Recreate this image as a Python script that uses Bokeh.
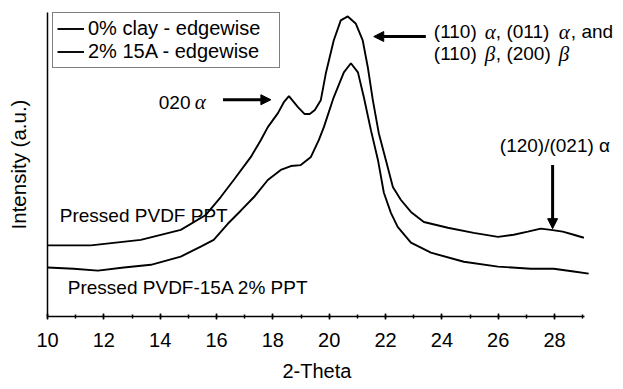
from bokeh.plotting import figure
from bokeh.models import (Range1d, Label, Arrow, NormalHead, Legend, LegendItem,
                          SingleIntervalTicker, FixedTicker, Title)
from bokeh.embed import file_html
from bokeh.resources import INLINE

# 2-Theta (deg) and intensity (a.u.)
theta_0clay = [10.0, 11.54, 13.31, 14.73, 15.62, 16.15, 16.61, 17.22, 17.57, 17.82,
               18.18, 18.39, 18.57, 18.89, 19.13, 19.31, 19.49, 19.70, 19.88, 20.16,
               20.41, 20.66, 20.94, 21.19, 21.37, 21.55, 21.76, 22.01, 22.26, 22.54,
               22.90, 23.36, 24.21, 25.13, 25.99, 26.55, 27.05, 27.51, 27.87, 28.29,
               28.68, 29.04]
int_0clay = [23.4, 23.4, 25.2, 28.5, 33.4, 39.3, 44.9, 52.5, 58.0, 62.3,
             66.9, 70.5, 72.5, 68.9, 66.6, 66.6, 67.9, 71.1, 80.0, 90.8,
             97.4, 98.7, 96.4, 90.8, 82.0, 71.1, 60.3, 51.5, 42.6, 38.4,
             34.4, 31.1, 29.2, 27.5, 26.2, 26.9, 27.9, 28.9, 28.5, 27.9,
             26.9, 25.9]

theta_15a = [10.0, 10.93, 11.79, 12.71, 13.67, 14.73, 15.44, 15.90, 16.40, 16.86,
             17.33, 17.82, 18.28, 18.64, 18.99, 19.35, 19.63, 19.81, 20.16, 20.52,
             20.77, 21.02, 21.23, 21.48, 21.73, 21.94, 22.19, 22.43, 22.90, 23.61,
             24.78, 25.99, 27.16, 27.97, 28.68, 29.21]
int_15a = [16.1, 15.7, 15.1, 16.1, 17.0, 19.7, 23.0, 25.2, 30.5, 34.8,
           39.3, 44.9, 48.2, 49.5, 49.8, 52.5, 58.0, 62.3, 72.1, 80.3,
           83.3, 80.3, 72.1, 61.3, 51.5, 40.7, 34.1, 29.5, 24.3, 21.0,
           18.0, 16.4, 15.7, 15.7, 14.8, 14.1]

series_labels = ["0% clay - edgewise", "2% 15A - edgewise"]
x_title = "2-Theta"
y_title = "Intensity (a.u.)"

FONT = "Liberation Sans"
GREEK = "Liberation Serif"

p = figure(width=623, height=389, output_backend="svg", toolbar_location=None,
           x_range=Range1d(10, 30.34), y_range=Range1d(0, 100),
           min_border_left=47, min_border_right=3, min_border_top=12,
           min_border_bottom=72)
p.outline_line_color = None
p.xgrid.visible = False
p.ygrid.visible = False
p.background_fill_color = "white"
p.border_fill_color = "white"

r1 = p.line(theta_0clay, int_0clay, line_color="black", line_width=1.9)
r2 = p.line(theta_15a, int_15a, line_color="black", line_width=1.9)

xa = p.xaxis[0]
xa.bounds = (10, 29.05)
xa.ticker = SingleIntervalTicker(interval=2, num_minor_ticks=2)
xa.major_label_text_font = FONT
xa.major_label_text_font_size = "20px"
xa.major_label_standoff = 13
xa.major_tick_in = 3
xa.major_tick_out = 3
xa.minor_tick_in = 2
xa.minor_tick_out = 2
xa.axis_line_width = 1.5
xa.major_tick_line_width = 1.5
xa.minor_tick_line_width = 1.5
xa.axis_line_color = "black"
xa.major_tick_line_color = "black"
xa.minor_tick_line_color = "black"
xa.major_label_text_color = "black"

p.add_layout(Title(text=x_title, align="left", offset=235, text_font=FONT,
                   text_font_size="20px", text_font_style="normal",
                   text_color="black", standoff=16), "below")

ya = p.yaxis[0]
ya.ticker = FixedTicker(ticks=[])
ya.axis_label = y_title
ya.axis_label_text_font = FONT
ya.axis_label_text_font_style = "normal"
ya.axis_label_text_font_size = "20.5px"
ya.axis_label_standoff = 18
ya.axis_line_width = 1.5
ya.axis_line_color = "black"
ya.axis_label_text_color = "black"
ya.major_tick_line_color = None
ya.minor_tick_line_color = None

legend = Legend(items=[LegendItem(label=series_labels[0], renderers=[r1]),
                       LegendItem(label=series_labels[1], renderers=[r2])],
                location=(5, 248), label_text_font=FONT, label_text_font_size="20px",
                label_text_color="black", border_line_color="black", border_line_width=1.5,
                background_fill_alpha=1.0, glyph_width=27, glyph_height=23,
                label_standoff=4, padding=4, spacing=0, margin=0, label_height=23,
                label_width=187)
p.add_layout(legend)

def px2x(px):
    return 10 + (px - 46.7) / 28.17

def lab(px, y, t, size="19px", font=FONT, style="normal"):
    p.add_layout(Label(x=px2x(px), y=y, text=t, text_font=font, text_font_size=size,
                       text_font_style=style, text_baseline="middle", text_align="left",
                       text_color="black"))

def greek(px, y, t):
    lab(px, y, t, size="21px", font=GREEK, style="italic")

# 020 alpha
lab(158, 70.5, "020")
greek(194, 70.5, "α")
# (110) a, (011) a, and / (110) b, (200) b
y1, y2 = 93.7, 86.5
lab(433, y1, "(110)")
greek(484, y1, "α")
lab(495, y1, ", (011)")
greek(558, y1, "α")
lab(570, y1, ", and")
lab(433, y2, "(110)")
greek(484, y2, "β")
lab(495, y2, ", (200)")
greek(558, y2, "β")
# (120)/(021) alpha
lab(499, 56.4, "(120)/(021) α")
lab(59, 33.1, "Pressed PVDF PPT")
lab(67, 9.5, "Pressed PVDF-15A 2% PPT")

def arrow(x0, y0, x1, y1):
    p.add_layout(Arrow(x_start=x0, y_start=y0, x_end=x1, y_end=y1, line_width=3,
                       line_color="black",
                       end=NormalHead(size=10, fill_color="black", line_color="black",
                                      line_width=1)))

arrow(16.23, 71.3, 17.93, 71.3)
arrow(23.43, 92.1, 21.58, 92.1)
arrow(27.93, 49.8, 27.93, 28.9)

open("out.html", "w").write(file_html(p, INLINE))
